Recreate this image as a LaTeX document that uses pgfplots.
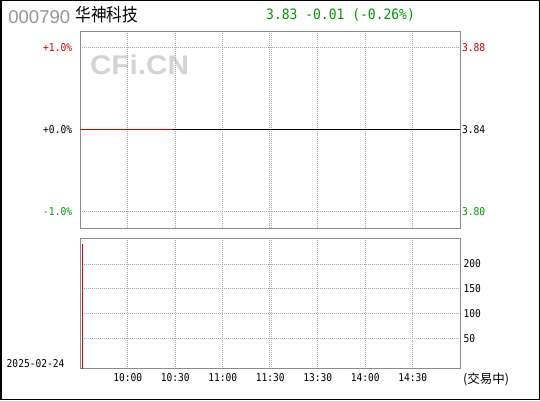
\documentclass[border=0pt]{standalone}
\usepackage{pgfplots}
\pgfplotsset{compat=1.18}
\usepackage{fontspec}
\setmainfont{DejaVu Sans Mono}
\newfontfamily\cjk{Noto Sans CJK SC}
\newfontfamily\arial{Liberation Sans}

\definecolor{upred}{RGB}{204,0,0}
\definecolor{linered}{RGB}{215,0,0}
\definecolor{barred}{RGB}{230,0,0}
\definecolor{dngreen}{RGB}{0,150,0}
\definecolor{idgray}{RGB}{150,150,150}
\definecolor{wmgray}{RGB}{212,212,212}
\definecolor{gridgray}{RGB}{170,170,170}
\definecolor{framegray}{RGB}{140,140,140}

\pgfplotsset{
  cfbase/.style={
    scale only axis,
    width=380pt,
    xmin=0, xmax=240,
    axis line style={draw=framegray, line width=1pt},
    grid style={draw=gridgray, line width=0.8pt, dash pattern=on 1pt off 1pt},
    major tick length=0pt,
    xtick={30,60,90,119.55,120.45,150,180,210},
    xmajorgrids,
    /pgf/number format/assume math mode=true,
    ticklabel style={font=\fontsize{9.6}{10}\selectfont, inner sep=0pt, yscale=1.12},
  }
}

\begin{document}
\begin{tikzpicture}[x=1pt,y=1pt]
\fill[white] (0,0) rectangle (540,400);
\useasboundingbox (0,0) rectangle (540,400);

% watermark
\node[text=wmgray, font=\arial\bfseries\fontsize{27}{28}\selectfont, xscale=1.1] at (139.5,335.5) {CFi.CN};

% price panel
\begin{axis}[cfbase,
  at={(80.3pt,172pt)}, anchor=south west,
  height=196.7pt,
  ymin=-1.2, ymax=1.2,
  ytick={-1,0,1},
  ymajorgrids,
  xticklabels={,,,,,,,},
  yticklabels={\textcolor{dngreen}{-1.0\%},+0.0\%,\textcolor{upred}{+1.0\%}},
  yticklabel style={anchor=east, xshift=-8pt},
]
\addplot[draw=black, line width=1pt] coordinates {(58,0) (240,0)};
\addplot[draw=linered, line width=1.2pt] coordinates {(0,0) (58,0)};
\end{axis}

% price labels on the right
\begin{axis}[
  scale only axis,
  width=380pt, height=196.7pt,
  at={(80.3pt,172pt)}, anchor=south west,
  xmin=0, xmax=240, ymin=-1.2, ymax=1.2,
  hide x axis,
  axis y line*=right,
  axis line style={draw=none},
  major tick length=0pt,
  ytick={-1,0,1},
  yticklabels={\textcolor{dngreen}{3.80},3.84,\textcolor{upred}{3.88}},
  yticklabel style={font=\fontsize{9.6}{10}\selectfont, inner sep=0pt, yscale=1.12, anchor=west, xshift=1.5pt},
]
\addplot[draw=none] coordinates {(0,0)};
\end{axis}

% volume panel
\begin{axis}[cfbase,
  at={(80.3pt,31.5pt)}, anchor=south west,
  height=130pt,
  ymin=-11, ymax=251.5,
  ytick={50,100,150,200},
  ymajorgrids,
  yticklabel pos=right,
  yticklabel style={anchor=west, xshift=3pt},
  xticklabels={10:00,10:30,11:00,,,13:30,14:00,14:30},
  xticklabel style={anchor=center, yshift=-8.5pt},
  extra x ticks={120},
  extra x tick labels={11:30},
  extra x tick style={grid=none},
]
\addplot[draw=barred, line width=1.2pt] coordinates {(1.2,-11) (1.2,240)};
\end{axis}

% header
\node[anchor=base west, inner sep=0pt, text=idgray, font=\arial\fontsize{18.5}{20}\selectfont] at (8.2,376.7) {000790};
\node[anchor=base west, inner sep=0pt, font=\cjk\fontsize{18}{20}\selectfont, xscale=0.87] at (75.5,378.6) {华神科技};
\node[anchor=base west, inner sep=0pt, text=dngreen, font=\fontsize{13}{14}\selectfont, yscale=1.1] at (266,380.7) {3.83 -0.01 (-0.26\%)};

% footer
\node[anchor=base west, inner sep=0pt, font=\fontsize{9.6}{10}\selectfont, yscale=1.12] at (6.5,32.7) {2025-02-24};
\node[anchor=west, inner sep=0pt, font=\cjk\fontsize{12.5}{13}\selectfont] at (463,20.7) {(交易中)};

% outer frame
\draw[black, line width=1.5pt] (0.75,0.75) rectangle (539.25,399.25);
\end{tikzpicture}
\end{document}
